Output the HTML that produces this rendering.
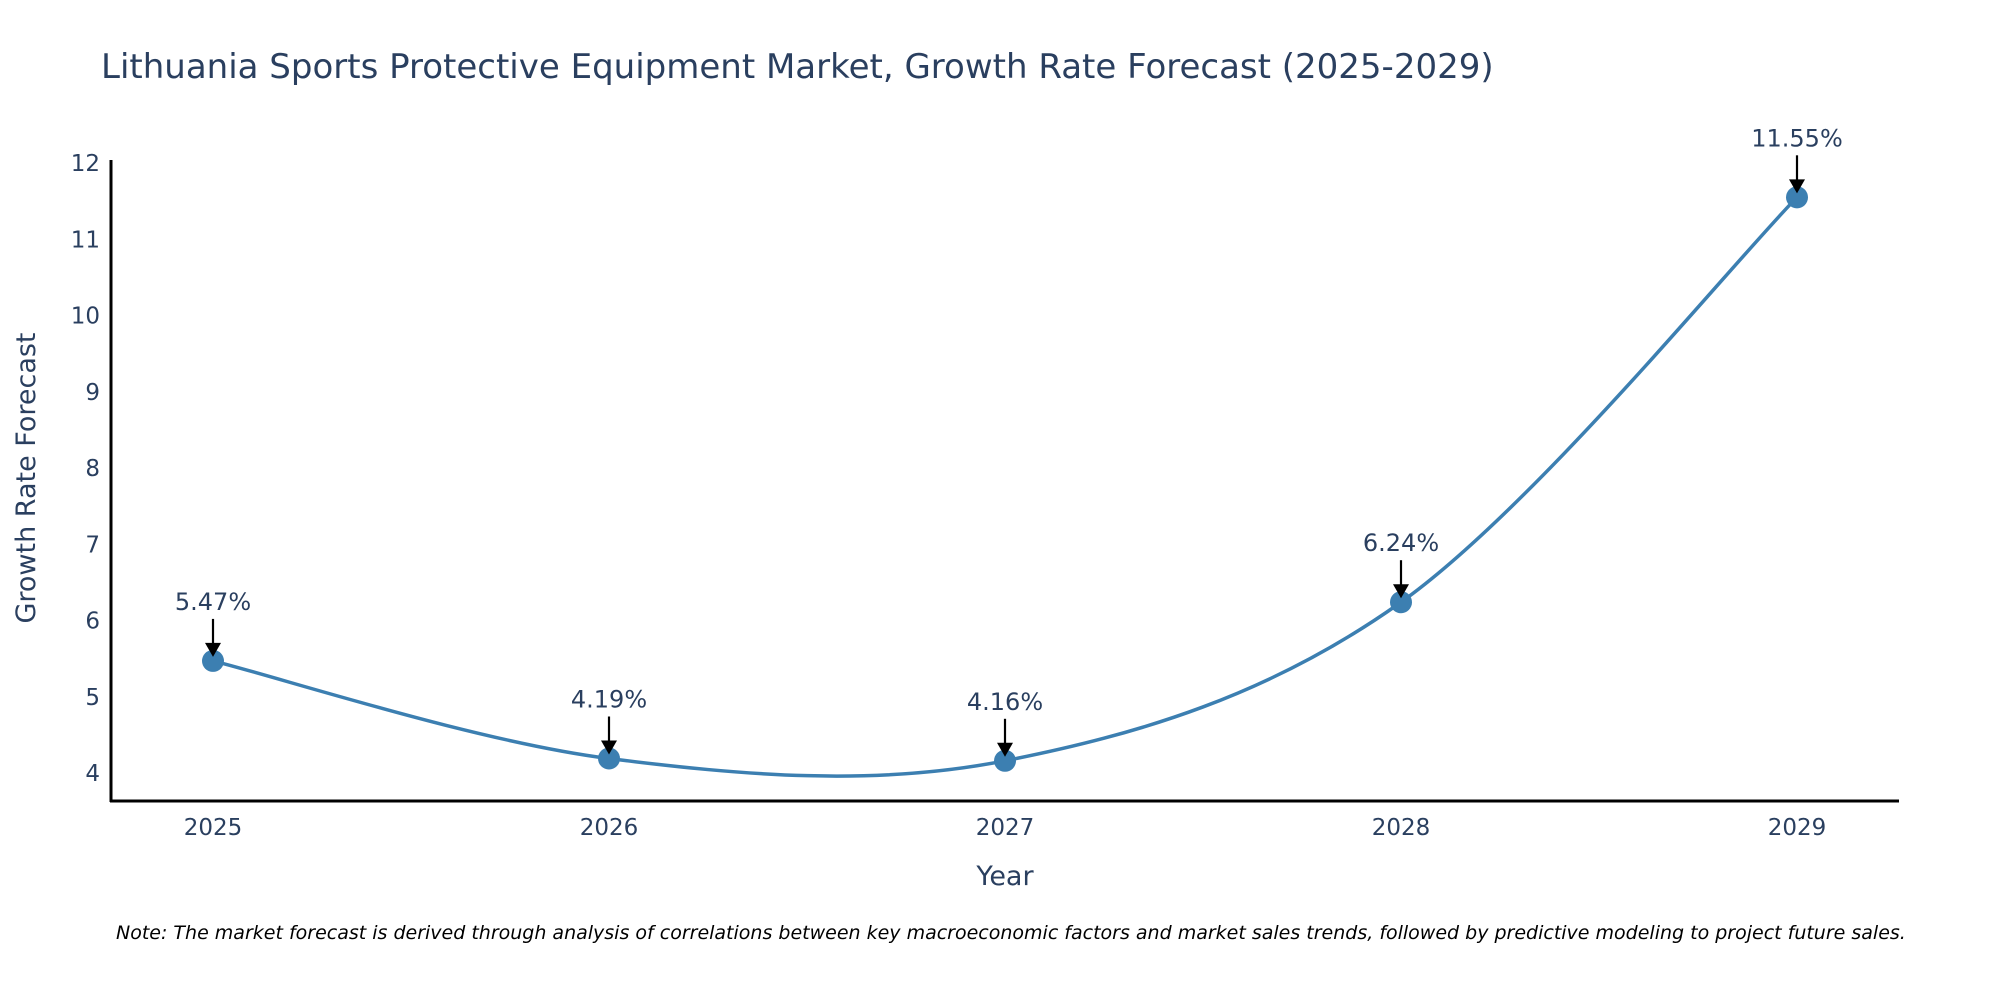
<!DOCTYPE html>
<html><head><meta charset="utf-8"><style>
html,body{margin:0;padding:0;background:#fff;}
svg{display:block;font-family:"DejaVu Sans","Liberation Sans",sans-serif;}
</style></head><body>
<svg id="chart" width="2000" height="1000" viewBox="0 0 2000 1000">
<text x="101" y="78" font-size="34" fill="#2a3f5f">Lithuania Sports Protective Equipment Market, Growth Rate Forecast (2025-2029)</text>
<g id="yticks"></g>
<g id="xticks"></g>
<line x1="111" y1="160" x2="111" y2="802" stroke="#000" stroke-width="3"/>
<line x1="110" y1="801" x2="1899" y2="801" stroke="#000" stroke-width="3"/>
<path id="curve" fill="none" stroke="#3c7fb1" stroke-width="3.5"/>
<g id="points"></g>
<g id="annots"></g>
<text x="1005" y="885" font-size="27" fill="#2a3f5f" text-anchor="middle">Year</text>
<text transform="translate(35,478) rotate(-90)" font-size="27" fill="#2a3f5f" text-anchor="middle">Growth Rate Forecast</text>
<text x="116" y="939" font-size="19" font-style="italic" fill="#000">Note: The market forecast is derived through analysis of correlations between key macroeconomic factors and market sales trends, followed by predictive modeling to project future sales.</text>
</svg>
<script>
const years = [2025, 2026, 2027, 2028, 2029];
const growth = [5.47, 4.19, 4.16, 6.24, 11.55];
const yTickValues = [4, 5, 6, 7, 8, 9, 10, 11, 12];
const labels = ["5.47%", "4.19%", "4.16%", "6.24%", "11.55%"];

const NS = "http://www.w3.org/2000/svg";
function xs(v){ return 213 + (v - 2025) * (1797 - 213) / 4; }
function ys(v){ return 773 - (v - 4) * (773 - 163) / 8; }
function mk(tag, attrs, parent){ const e = document.createElementNS(NS, tag); for (const k in attrs) e.setAttribute(k, attrs[k]); parent.appendChild(e); return e; }

const yt = document.getElementById('yticks');
yTickValues.forEach(v => {
  const t = mk('text', {x: 100, y: ys(v) + 8, 'font-size': 23, fill: '#2a3f5f', 'text-anchor': 'end'}, yt);
  
  
  t.textContent = v;
});
const xt = document.getElementById('xticks');
years.forEach(v => {
  const t = mk('text', {x: xs(v), y: 835, 'font-size': 23, fill: '#2a3f5f', 'text-anchor': 'middle'}, xt);
  
  
  t.textContent = v;
});

const pts = years.map((y, i) => [xs(y), ys(growth[i])]);
let d = `M${pts[0][0]},${pts[0][1]}`;
for (let i = 0; i < pts.length - 1; i++) {
  const p0 = pts[Math.max(i - 1, 0)], p1 = pts[i], p2 = pts[i + 1], p3 = pts[Math.min(i + 2, pts.length - 1)];
  const c1 = [p1[0] + (p2[0] - p0[0]) / 6, p1[1] + (p2[1] - p0[1]) / 6];
  const c2 = [p2[0] - (p3[0] - p1[0]) / 6, p2[1] - (p3[1] - p1[1]) / 6];
  d += ` C${c1[0]},${c1[1]} ${c2[0]},${c2[1]} ${p2[0]},${p2[1]}`;
}
document.getElementById('curve').setAttribute('d', d);

const pg = document.getElementById('points');
const ag = document.getElementById('annots');
pts.forEach((p, i) => {
  const c = mk('circle', {cx: p[0], cy: p[1], r: 11, fill: '#3c7fb1'}, pg);
  
  
  const l = mk('line', {x1: p[0], y1: p[1] - 42, x2: p[0], y2: p[1] - 14, stroke: '#000', 'stroke-width': 2.2}, ag);
  
  
  const h = mk('polygon', {points: `${p[0]-8},${p[1]-18} ${p[0]+8},${p[1]-18} ${p[0]},${p[1]-4}`, fill: '#000'}, ag);
  
  
  const t = mk('text', {x: p[0], y: p[1] - 51, 'font-size': 24, fill: '#2a3f5f', 'text-anchor': 'middle'}, ag);
  
  
  t.textContent = labels[i];
});
</script>
</body></html>
